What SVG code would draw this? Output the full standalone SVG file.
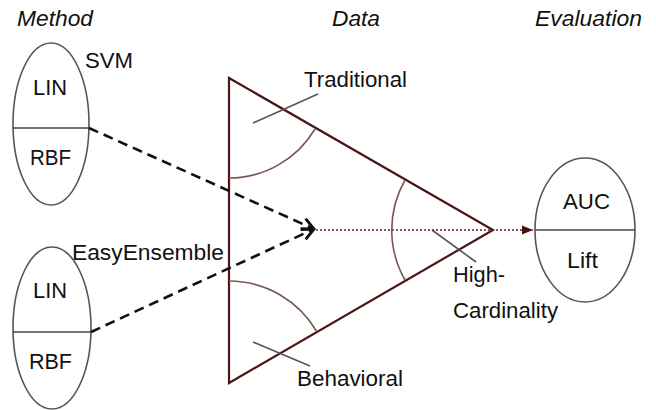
<svg xmlns="http://www.w3.org/2000/svg" width="656" height="410" viewBox="0 0 656 410">
<defs>
<style>
text{font-family:"Liberation Sans",Arial,sans-serif;font-size:22px;fill:#111}
.hdr{font-style:italic;font-size:22px}
.ell{fill:none;stroke:#555;stroke-width:1.6}
.div{stroke:#444;stroke-width:1.6}
.tri{fill:none;stroke:#4a1515;stroke-width:2.2;stroke-linejoin:miter}
.arc{fill:none;stroke:#7a5656;stroke-width:1.6}
.lead{stroke:#555;stroke-width:1.6}
.dash{fill:none;stroke:#111;stroke-width:2.6;stroke-dasharray:10 6}
.dot{fill:none;stroke:#6a2525;stroke-width:1.6;stroke-dasharray:2 2}
</style>
<marker id="openArrow" viewBox="0 0 12 12" refX="11" refY="6" markerWidth="5.5" markerHeight="5.5" orient="auto" markerUnits="strokeWidth">
<path d="M1,1 L11,6 L1,11" fill="none" stroke="#111" stroke-width="2.4"/>
</marker>
<marker id="fillArrow" viewBox="0 0 10 10" refX="10" refY="5" markerWidth="7" markerHeight="7" orient="auto" markerUnits="strokeWidth">
<path d="M0,1 L10,5 L0,9 Z" fill="#4a1010"/>
</marker>
</defs>

<g id="headers">
<text class="hdr" x="17" y="26" textLength="76" lengthAdjust="spacingAndGlyphs">Method</text>
<text class="hdr" x="332" y="26" textLength="48" lengthAdjust="spacingAndGlyphs">Data</text>
<text class="hdr" x="535" y="26" textLength="107" lengthAdjust="spacingAndGlyphs">Evaluation</text>
</g>

<g id="svm">
<ellipse class="ell" cx="51" cy="124" rx="38" ry="81"/>
<line class="div" x1="13" y1="128" x2="89" y2="128"/>
<text x="33" y="95" textLength="34" lengthAdjust="spacingAndGlyphs">LIN</text>
<text x="30" y="165" textLength="41" lengthAdjust="spacingAndGlyphs">RBF</text>
<text x="85" y="68" textLength="48" lengthAdjust="spacingAndGlyphs">SVM</text>
</g>

<g id="easyensemble">
<ellipse class="ell" cx="52" cy="328" rx="39" ry="81"/>
<line class="div" x1="13" y1="332" x2="91" y2="332"/>
<text x="33" y="298" textLength="34" lengthAdjust="spacingAndGlyphs">LIN</text>
<text x="29" y="369" textLength="43" lengthAdjust="spacingAndGlyphs">RBF</text>
<text x="72" y="260" textLength="152" lengthAdjust="spacingAndGlyphs">EasyEnsemble</text>
</g>

<g id="data">
<path class="tri" d="M229,78 L493,230 L229,383 Z"/>
<path class="arc" d="M229,178 A100,100 0 0 0 315,129"/>
<path class="arc" d="M229,281 A102,102 0 0 1 317,332"/>
<path class="arc" d="M405,180 A101,101 0 0 0 405,280"/>
<line class="lead" x1="253" y1="123" x2="318" y2="94"/>
<line class="lead" x1="253" y1="342" x2="310" y2="366"/>
<line class="lead" x1="432" y1="230" x2="476" y2="262"/>
<text x="304" y="87" textLength="103" lengthAdjust="spacingAndGlyphs">Traditional</text>
<text x="297" y="386" textLength="106" lengthAdjust="spacingAndGlyphs">Behavioral</text>
<text x="453" y="282" textLength="52" lengthAdjust="spacingAndGlyphs">High-</text>
<text x="453" y="318" textLength="105" lengthAdjust="spacingAndGlyphs">Cardinality</text>
</g>

<g id="evaluation">
<ellipse class="ell" cx="585" cy="230" rx="50" ry="72"/>
<line class="div" x1="535" y1="230" x2="635" y2="230"/>
<text x="563" y="209" textLength="47" lengthAdjust="spacingAndGlyphs">AUC</text>
<text x="567" y="268" textLength="31" lengthAdjust="spacingAndGlyphs">Lift</text>
</g>

<g id="connectors">
<line class="dash" x1="89" y1="128" x2="314" y2="229" marker-end="url(#openArrow)"/>
<line class="dash" x1="91" y1="332" x2="314" y2="229" marker-end="url(#openArrow)"/>
<line class="dot" x1="316" y1="230" x2="533" y2="230" marker-end="url(#fillArrow)"/>
</g>
</svg>
